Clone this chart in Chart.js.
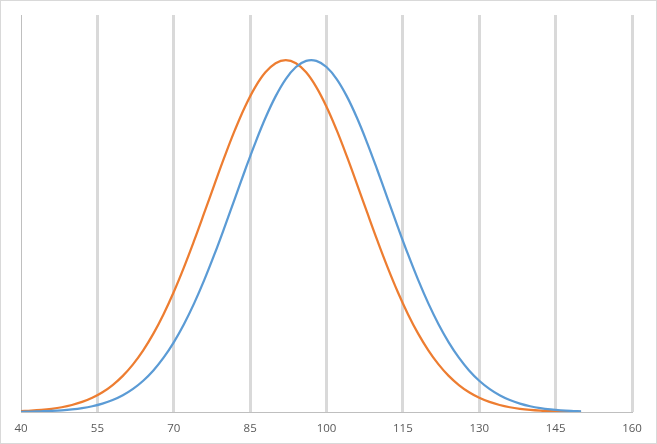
<!DOCTYPE html>
<html>
<head>
<meta charset="utf-8">
<script src="https://cdn.jsdelivr.net/npm/chart.js@4/dist/chart.umd.min.js"></script>
<style>
html,body{margin:0;padding:0;background:#fff;}
#wrap{width:657px;height:444px;position:relative;}
</style>
</head>
<body>
<div id="wrap"><canvas id="c" width="657" height="444"></canvas></div>
<script>
// x values (score)
const xValues = [40,42,44,46,48,50,52,54,56,58,60,62,64,66,68,70,72,74,76,78,80,82,84,86,88,90,92,94,96,98,100,102,104,106,108,110,112,114,116,118,120,122,124,126,128,130,132,134,136,138,140,142,144,146,148,150];
// relative density, blue series (peak near 97)
const blueValues = [0.0007,0.0012,0.0020,0.0031,0.0048,0.0074,0.0111,0.0164,0.0239,0.0340,0.0477,0.0657,0.0889,0.1181,0.1543,0.1979,0.2494,0.3086,0.3753,0.4483,0.5261,0.6065,0.6869,0.7642,0.8353,0.8968,0.9460,0.9802,0.9978,0.9978,0.9802,0.9460,0.8968,0.8353,0.7642,0.6869,0.6065,0.5261,0.4483,0.3753,0.3086,0.2494,0.1979,0.1543,0.1181,0.0889,0.0657,0.0477,0.0340,0.0239,0.0164,0.0111,0.0074,0.0048,0.0031,0.0020];
// relative density, orange series (peak near 92)
const orangeValues = [0.0025,0.0039,0.0060,0.0091,0.0135,0.0198,0.0286,0.0404,0.0561,0.0766,0.1027,0.1353,0.1752,0.2226,0.2780,0.3411,0.4111,0.4868,0.5662,0.6469,0.7261,0.8007,0.8674,0.9231,0.9651,0.9911,1.0000,0.9911,0.9651,0.9231,0.8674,0.8007,0.7261,0.6469,0.5662,0.4868,0.4111,0.3411,0.2780,0.2226,0.1752,0.1353,0.1027,0.0766,0.0561,0.0404,0.0286,0.0198,0.0135,0.0091,0.0060,0.0039,0.0025,0.0015,0.0009,0.0006];
// axis ticks
const xTicks = [40,55,70,85,100,115,130,145,160];

const toPts = vals => xValues.map((x,i)=>({x:x, y:vals[i]}));

const borderPlugin = {
  id:'outerBorder',
  afterDraw(chart){
    const ctx = chart.ctx;
    ctx.save();
    ctx.strokeStyle = '#d9d9d9';
    ctx.lineWidth = 1;
    ctx.strokeRect(0.5,0.5,chart.width-1,chart.height-1);
    ctx.restore();
  }
};

new Chart(document.getElementById('c'), {
  type:'line',
  data:{
    datasets:[
      {label:'Series 1', data:toPts(blueValues), borderColor:'#5b9bd5', borderWidth:2.25, pointRadius:0, tension:0.4, fill:false},
      {label:'Series 2', data:toPts(orangeValues), borderColor:'#ed7d31', borderWidth:2.25, pointRadius:0, tension:0.4, fill:false}
    ]
  },
  options:{
    responsive:false,
    animation:false,
    devicePixelRatio:1,
    layout:{padding:{left:21,right:25,top:15,bottom:0}},
    plugins:{legend:{display:false}, tooltip:{enabled:false}},
    scales:{
      x:{
        type:'linear', min:40, max:160,
        afterBuildTicks(scale){ scale.ticks = xTicks.map(v=>({value:v})); },
        afterFit(scale){ scale.height = 32; },
        ticks:{color:'#595959', font:{family:'"Open Sans", "Liberation Sans", sans-serif', size:11.5}, padding:10, maxRotation:0, autoSkip:false},
        grid:{
          drawTicks:false,
          color:ctx => ctx.index === 0 ? '#bfbfbf' : '#d9d9d9',
          lineWidth:ctx => ctx.index === 0 ? 1 : 3
        },
        border:{display:true, color:'#bfbfbf', width:1}
      },
      y:{
        display:false, min:0, max:1.128
      }
    }
  },
  plugins:[borderPlugin]
});
</script>
</body>
</html>
